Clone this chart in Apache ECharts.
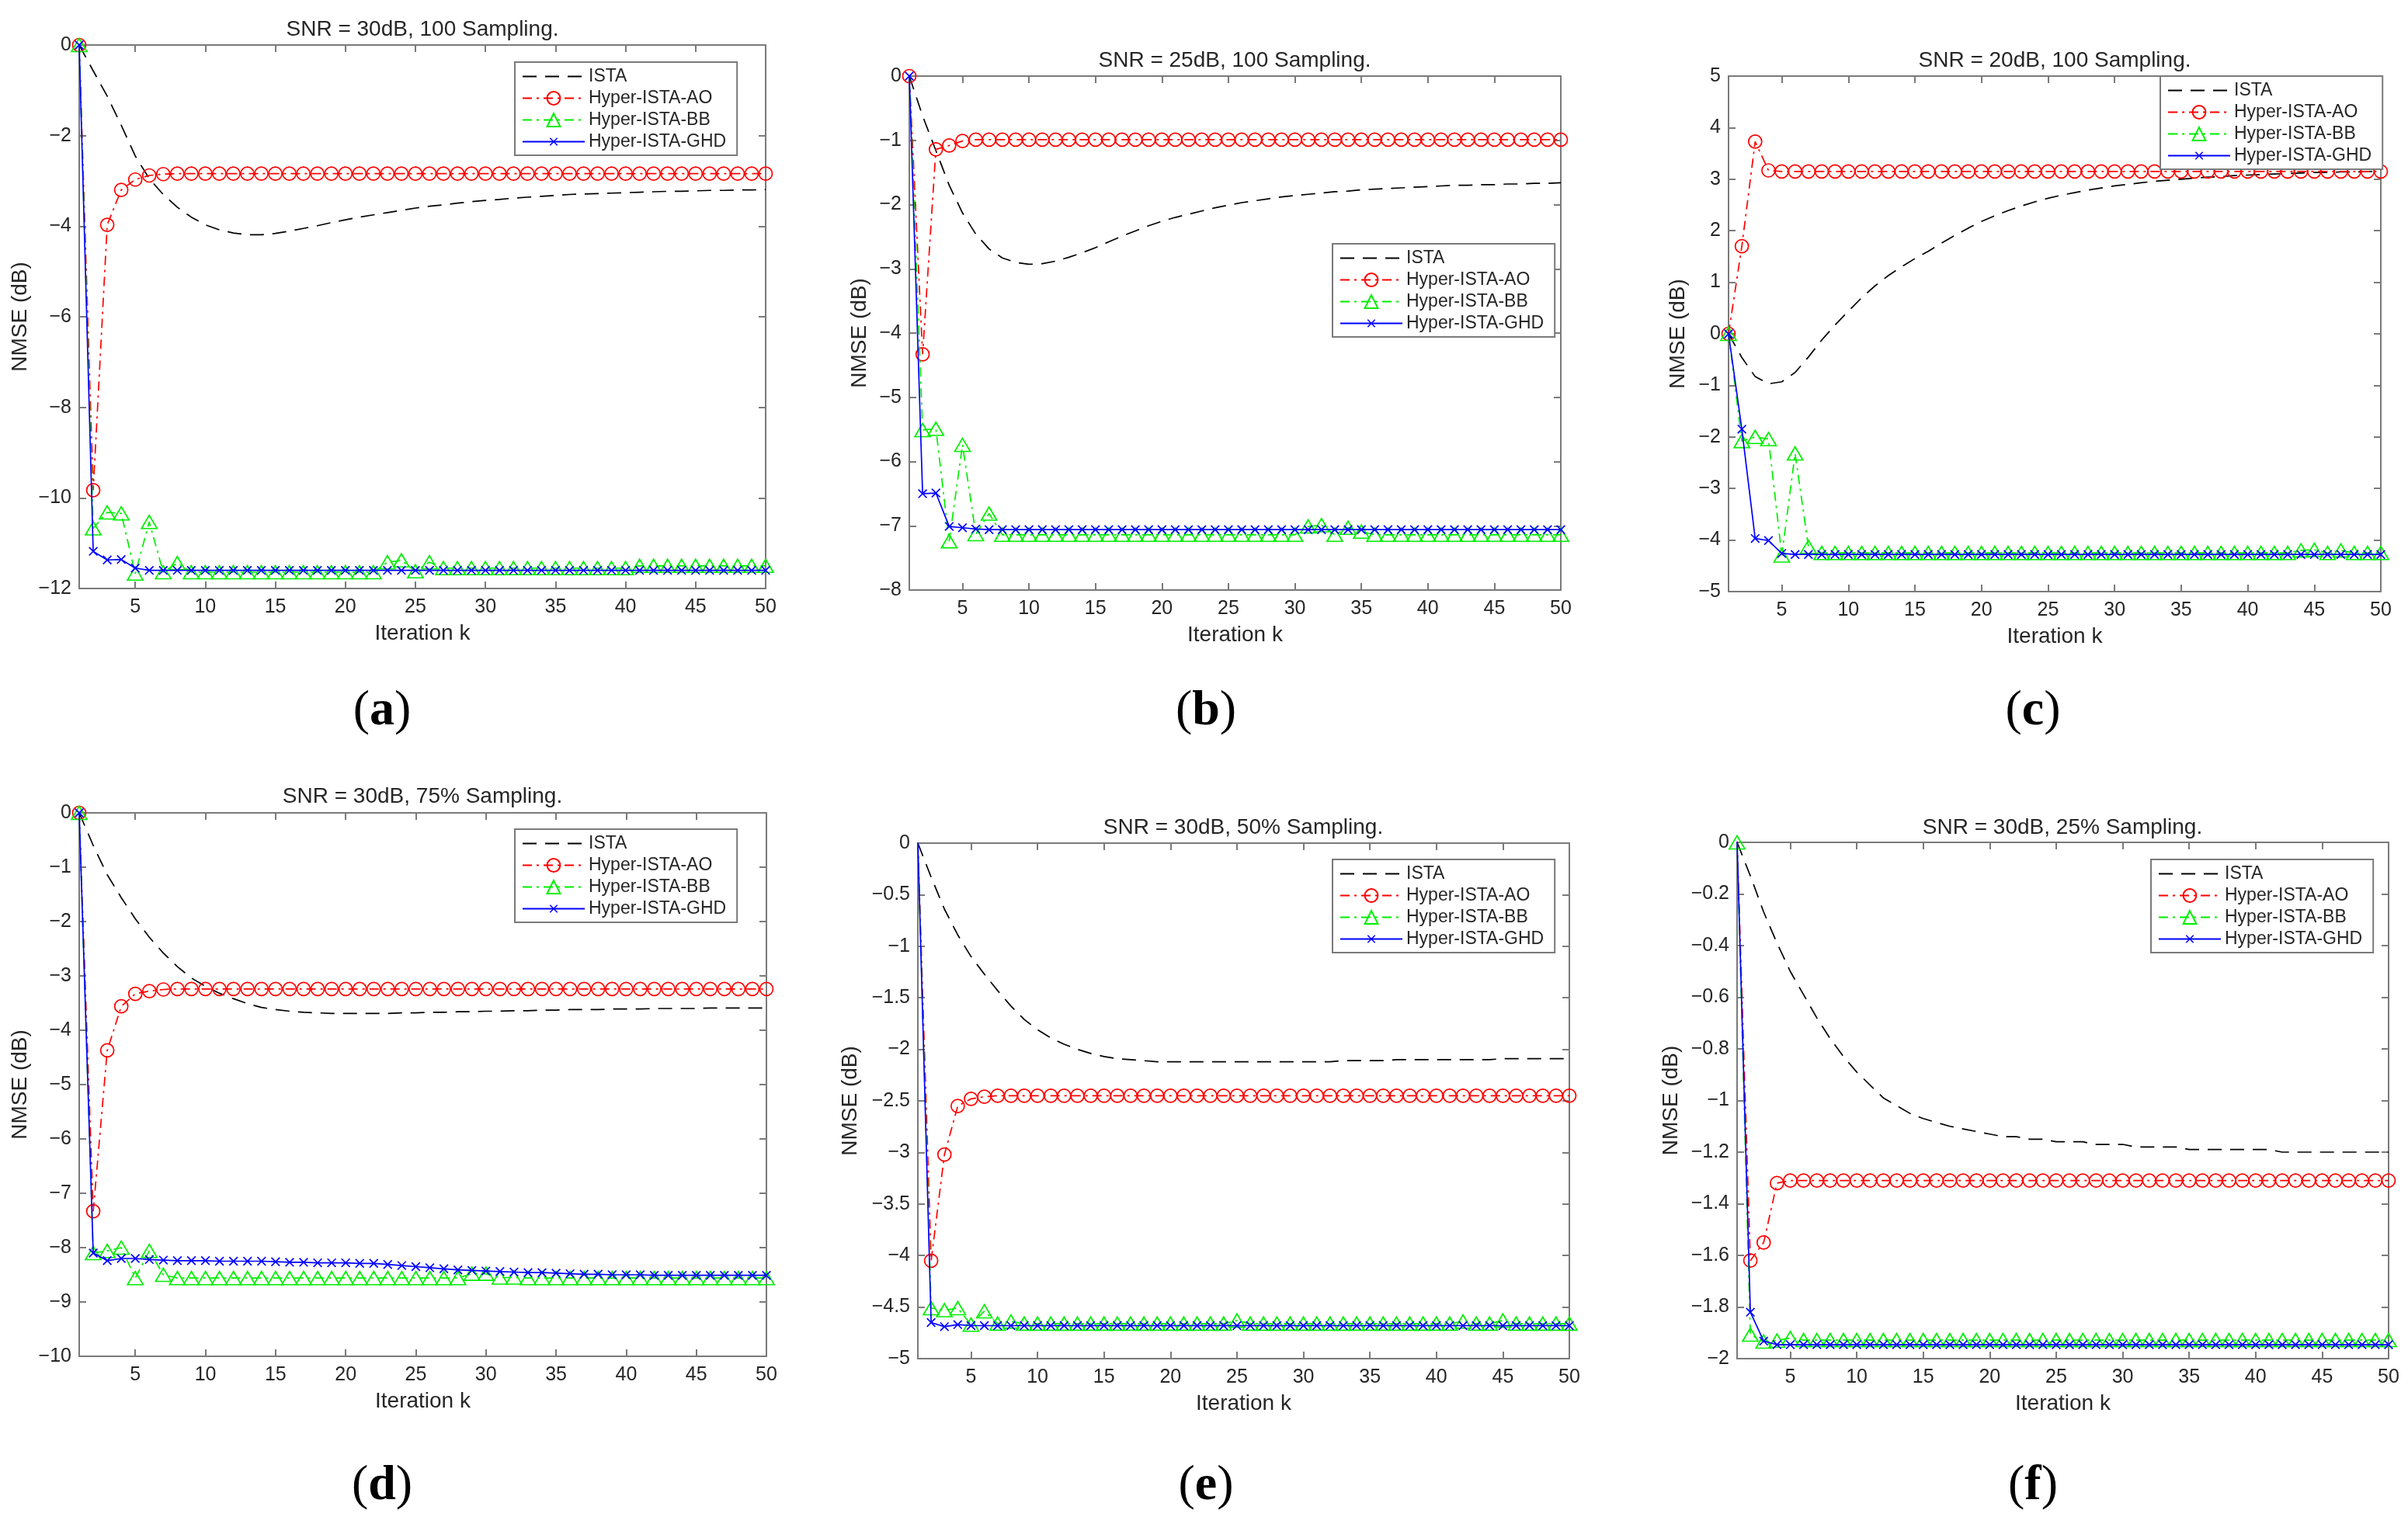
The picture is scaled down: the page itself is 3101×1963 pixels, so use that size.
<!DOCTYPE html>
<html>
<head>
<meta charset="utf-8">
<title>NMSE vs iteration</title>
<script src="https://cdn.jsdelivr.net/npm/echarts@6/dist/echarts.min.js"></script>
<style>
html, body { margin: 0; padding: 0; background: #fff; }
#main { width: 3101px; height: 1963px; }
</style>
</head>
<body>
<div id="main"></div>
<script>
// iteration index (x values) and the tick labels on x
var iters = [1, 2, 3, 4, 5, 6, 7, 8, 9, 10, 11, 12, 13, 14, 15, 16, 17, 18, 19, 20,
    21, 22, 23, 24, 25, 26, 27, 28, 29, 30, 31, 32, 33, 34, 35, 36, 37, 38, 39, 40,
    41, 42, 43, 44, 45, 46, 47, 48, 49, 50];
var xTicks = [5, 10, 15, 20, 25, 30, 35, 40, 45, 50];
var seriesNames = ['ISTA', 'Hyper-ISTA-AO', 'Hyper-ISTA-BB', 'Hyper-ISTA-GHD'];

// (a) SNR = 30dB, 100 Sampling
var istaA = [0, -0.57, -1.13, -1.77, -2.45, -2.95, -3.3, -3.58, -3.8, -3.97,
    -4.08, -4.15, -4.19, -4.19, -4.16, -4.11, -4.05, -3.99, -3.92, -3.86,
    -3.8, -3.75, -3.7, -3.65, -3.6, -3.56, -3.53, -3.49, -3.46, -3.43,
    -3.41, -3.38, -3.36, -3.34, -3.32, -3.3, -3.29, -3.28, -3.27, -3.26,
    -3.25, -3.24, -3.23, -3.23, -3.22, -3.21, -3.21, -3.2, -3.2, -3.19];
var aoA = [0, -9.83, -3.97, -3.2, -2.97, -2.88, -2.85, -2.84, -2.84, -2.84,
    -2.84, -2.84, -2.84, -2.84, -2.84, -2.84, -2.84, -2.84, -2.84, -2.84,
    -2.84, -2.84, -2.84, -2.84, -2.84, -2.84, -2.84, -2.84, -2.84, -2.84,
    -2.84, -2.84, -2.84, -2.84, -2.84, -2.84, -2.84, -2.84, -2.84, -2.84,
    -2.84, -2.84, -2.84, -2.84, -2.84, -2.84, -2.84, -2.84, -2.84, -2.84];
var bbA = [0, -10.67, -10.32, -10.34, -11.67, -10.53, -11.64, -11.44, -11.64, -11.64,
    -11.64, -11.64, -11.64, -11.64, -11.64, -11.64, -11.64, -11.64, -11.64, -11.64,
    -11.64, -11.64, -11.42, -11.38, -11.62, -11.42, -11.55, -11.55, -11.55, -11.55,
    -11.55, -11.55, -11.55, -11.55, -11.55, -11.55, -11.55, -11.55, -11.55, -11.55,
    -11.5, -11.5, -11.5, -11.5, -11.5, -11.5, -11.5, -11.5, -11.5, -11.5];
var ghdA = [0, -11.18, -11.37, -11.36, -11.55, -11.6, -11.6, -11.6, -11.6, -11.6,
    -11.6, -11.6, -11.6, -11.6, -11.6, -11.6, -11.6, -11.6, -11.6, -11.6,
    -11.6, -11.6, -11.6, -11.6, -11.6, -11.6, -11.6, -11.6, -11.6, -11.6,
    -11.6, -11.6, -11.6, -11.6, -11.6, -11.6, -11.6, -11.6, -11.6, -11.6,
    -11.6, -11.6, -11.6, -11.6, -11.6, -11.6, -11.6, -11.6, -11.6, -11.6];

// (b) SNR = 25dB, 100 Sampling
var istaB = [0, -0.62, -1.16, -1.7, -2.13, -2.46, -2.69, -2.83, -2.9, -2.93,
    -2.92, -2.88, -2.82, -2.75, -2.67, -2.58, -2.49, -2.41, -2.33, -2.26,
    -2.2, -2.15, -2.1, -2.05, -2.01, -1.97, -1.94, -1.91, -1.88, -1.86,
    -1.84, -1.82, -1.8, -1.79, -1.77, -1.76, -1.75, -1.74, -1.73, -1.72,
    -1.71, -1.7, -1.7, -1.69, -1.69, -1.68, -1.68, -1.67, -1.67, -1.66];
var aoB = [0, -4.33, -1.14, -1.08, -1.01, -0.99, -0.99, -0.99, -0.99, -0.99,
    -0.99, -0.99, -0.99, -0.99, -0.99, -0.99, -0.99, -0.99, -0.99, -0.99,
    -0.99, -0.99, -0.99, -0.99, -0.99, -0.99, -0.99, -0.99, -0.99, -0.99,
    -0.99, -0.99, -0.99, -0.99, -0.99, -0.99, -0.99, -0.99, -0.99, -0.99,
    -0.99, -0.99, -0.99, -0.99, -0.99, -0.99, -0.99, -0.99, -0.99, -0.99];
var bbB = [0.03, -5.51, -5.49, -7.24, -5.74, -7.13, -6.81, -7.14, -7.14, -7.14,
    -7.14, -7.14, -7.14, -7.14, -7.14, -7.14, -7.14, -7.14, -7.14, -7.14,
    -7.14, -7.14, -7.14, -7.14, -7.14, -7.14, -7.14, -7.14, -7.14, -7.14,
    -7.01, -6.99, -7.14, -7.03, -7.09, -7.14, -7.14, -7.14, -7.14, -7.14,
    -7.14, -7.14, -7.14, -7.14, -7.14, -7.14, -7.14, -7.14, -7.14, -7.14];
var ghdB = [0, -6.5, -6.49, -7.01, -7.03, -7.05, -7.06, -7.06, -7.06, -7.06,
    -7.06, -7.06, -7.06, -7.06, -7.06, -7.06, -7.06, -7.06, -7.06, -7.06,
    -7.06, -7.06, -7.06, -7.06, -7.06, -7.06, -7.06, -7.06, -7.06, -7.06,
    -7.06, -7.06, -7.06, -7.06, -7.06, -7.06, -7.06, -7.06, -7.06, -7.06,
    -7.06, -7.06, -7.06, -7.06, -7.06, -7.06, -7.06, -7.06, -7.06, -7.06];

// (c) SNR = 20dB, 100 Sampling
var istaC = [0, -0.46, -0.83, -0.97, -0.93, -0.75, -0.45, -0.12, 0.17, 0.44,
    0.7, 0.93, 1.13, 1.3, 1.46, 1.6, 1.76, 1.91, 2.05, 2.18,
    2.29, 2.39, 2.48, 2.56, 2.63, 2.69, 2.74, 2.79, 2.83, 2.87,
    2.9, 2.93, 2.96, 2.98, 3.0, 3.02, 3.04, 3.05, 3.07, 3.08,
    3.09, 3.1, 3.11, 3.12, 3.13, 3.13, 3.14, 3.14, 3.15, 3.15];
var aoC = [0, 1.7, 3.73, 3.17, 3.15, 3.15, 3.15, 3.15, 3.15, 3.15,
    3.15, 3.15, 3.15, 3.15, 3.15, 3.15, 3.15, 3.15, 3.15, 3.15,
    3.15, 3.15, 3.15, 3.15, 3.15, 3.15, 3.15, 3.15, 3.15, 3.15,
    3.15, 3.15, 3.15, 3.15, 3.15, 3.15, 3.15, 3.15, 3.15, 3.15,
    3.15, 3.15, 3.15, 3.15, 3.15, 3.15, 3.15, 3.15, 3.15, 3.15];
var bbC = [0, -2.08, -2.0, -2.04, -4.3, -2.32, -4.13, -4.25, -4.25, -4.25,
    -4.25, -4.25, -4.25, -4.25, -4.25, -4.25, -4.25, -4.25, -4.25, -4.25,
    -4.25, -4.25, -4.25, -4.25, -4.25, -4.25, -4.25, -4.25, -4.25, -4.25,
    -4.25, -4.25, -4.25, -4.25, -4.25, -4.25, -4.25, -4.25, -4.25, -4.25,
    -4.25, -4.25, -4.25, -4.2, -4.19, -4.25, -4.2, -4.25, -4.25, -4.25];
var ghdC = [0, -1.85, -3.97, -4.01, -4.26, -4.28, -4.28, -4.28, -4.28, -4.28,
    -4.28, -4.28, -4.28, -4.28, -4.28, -4.28, -4.28, -4.28, -4.28, -4.28,
    -4.28, -4.28, -4.28, -4.28, -4.28, -4.28, -4.28, -4.28, -4.28, -4.28,
    -4.28, -4.28, -4.28, -4.28, -4.28, -4.28, -4.28, -4.28, -4.28, -4.28,
    -4.28, -4.28, -4.28, -4.28, -4.28, -4.28, -4.28, -4.28, -4.28, -4.28];

// (d) SNR = 30dB, 75% Sampling
var istaD = [0, -0.6, -1.14, -1.56, -1.95, -2.29, -2.58, -2.83, -3.04, -3.19,
    -3.32, -3.42, -3.51, -3.58, -3.62, -3.65, -3.67, -3.68, -3.69, -3.69,
    -3.69, -3.69, -3.69, -3.68, -3.68, -3.67, -3.67, -3.66, -3.66, -3.65,
    -3.65, -3.64, -3.64, -3.63, -3.63, -3.62, -3.62, -3.62, -3.61, -3.61,
    -3.61, -3.6, -3.6, -3.6, -3.6, -3.59, -3.59, -3.59, -3.59, -3.59];
var aoD = [0, -7.33, -4.37, -3.56, -3.33, -3.28, -3.25, -3.24, -3.24, -3.24,
    -3.24, -3.24, -3.24, -3.24, -3.24, -3.24, -3.24, -3.24, -3.24, -3.24,
    -3.24, -3.24, -3.24, -3.24, -3.24, -3.24, -3.24, -3.24, -3.24, -3.24,
    -3.24, -3.24, -3.24, -3.24, -3.24, -3.24, -3.24, -3.24, -3.24, -3.24,
    -3.24, -3.24, -3.24, -3.24, -3.24, -3.24, -3.24, -3.24, -3.24, -3.24];
var bbD = [0, -8.1, -8.06, -8.0, -8.56, -8.06, -8.5, -8.56, -8.56, -8.56,
    -8.56, -8.56, -8.56, -8.56, -8.56, -8.56, -8.56, -8.56, -8.56, -8.56,
    -8.56, -8.56, -8.56, -8.56, -8.56, -8.56, -8.56, -8.56, -8.48, -8.48,
    -8.55, -8.55, -8.56, -8.56, -8.56, -8.56, -8.56, -8.56, -8.56, -8.56,
    -8.56, -8.56, -8.56, -8.56, -8.56, -8.56, -8.56, -8.56, -8.56, -8.56];
var ghdD = [0, -8.1, -8.24, -8.2, -8.2, -8.22, -8.23, -8.24, -8.24, -8.24,
    -8.25, -8.25, -8.25, -8.25, -8.26, -8.27, -8.27, -8.28, -8.28, -8.28,
    -8.29, -8.29, -8.31, -8.33, -8.35, -8.37, -8.39, -8.41, -8.42, -8.43,
    -8.44, -8.45, -8.46, -8.46, -8.47, -8.48, -8.49, -8.49, -8.5, -8.5,
    -8.5, -8.51, -8.51, -8.51, -8.51, -8.51, -8.51, -8.51, -8.51, -8.51];

// (e) SNR = 30dB, 50% Sampling
var istaE = [0, -0.33, -0.64, -0.89, -1.1, -1.27, -1.43, -1.58, -1.71, -1.81,
    -1.89, -1.95, -2.0, -2.04, -2.07, -2.09, -2.1, -2.11, -2.12, -2.12,
    -2.12, -2.12, -2.12, -2.12, -2.12, -2.12, -2.12, -2.12, -2.12, -2.12,
    -2.12, -2.12, -2.11, -2.11, -2.11, -2.11, -2.1, -2.1, -2.1, -2.1,
    -2.1, -2.1, -2.1, -2.1, -2.09, -2.09, -2.09, -2.09, -2.09, -2.09];
var aoE = [0.01, -4.05, -3.02, -2.55, -2.48, -2.46, -2.45, -2.45, -2.45, -2.45,
    -2.45, -2.45, -2.45, -2.45, -2.45, -2.45, -2.45, -2.45, -2.45, -2.45,
    -2.45, -2.45, -2.45, -2.45, -2.45, -2.45, -2.45, -2.45, -2.45, -2.45,
    -2.45, -2.45, -2.45, -2.45, -2.45, -2.45, -2.45, -2.45, -2.45, -2.45,
    -2.45, -2.45, -2.45, -2.45, -2.45, -2.45, -2.45, -2.45, -2.45, -2.45];
var bbE = [0.01, -4.51, -4.53, -4.51, -4.67, -4.54, -4.66, -4.64, -4.66, -4.66,
    -4.66, -4.66, -4.66, -4.66, -4.66, -4.66, -4.66, -4.66, -4.66, -4.66,
    -4.66, -4.66, -4.66, -4.66, -4.63, -4.66, -4.66, -4.66, -4.66, -4.66,
    -4.66, -4.66, -4.66, -4.66, -4.66, -4.66, -4.66, -4.66, -4.66, -4.66,
    -4.66, -4.64, -4.66, -4.66, -4.63, -4.66, -4.66, -4.66, -4.66, -4.66];
var ghdE = [0.01, -4.65, -4.69, -4.67, -4.68, -4.68, -4.68, -4.68, -4.68, -4.68,
    -4.68, -4.68, -4.68, -4.68, -4.68, -4.68, -4.68, -4.68, -4.68, -4.68,
    -4.68, -4.68, -4.68, -4.68, -4.68, -4.68, -4.68, -4.68, -4.68, -4.68,
    -4.68, -4.68, -4.68, -4.68, -4.68, -4.68, -4.68, -4.68, -4.68, -4.68,
    -4.68, -4.68, -4.68, -4.68, -4.68, -4.68, -4.68, -4.68, -4.68, -4.68];

// (f) SNR = 30dB, 25% Sampling
var istaF = [0, -0.13, -0.27, -0.39, -0.5, -0.59, -0.68, -0.76, -0.83, -0.89,
    -0.94, -0.99, -1.02, -1.05, -1.07, -1.085, -1.1, -1.11, -1.12, -1.13,
    -1.14, -1.14, -1.15, -1.15, -1.16, -1.16, -1.16, -1.17, -1.17, -1.17,
    -1.18, -1.18, -1.18, -1.18, -1.19, -1.19, -1.19, -1.19, -1.19, -1.19,
    -1.19, -1.2, -1.2, -1.2, -1.2, -1.2, -1.2, -1.2, -1.2, -1.2];
var aoF = [0.005, -1.62, -1.55, -1.32, -1.31, -1.31, -1.31, -1.31, -1.31, -1.31,
    -1.31, -1.31, -1.31, -1.31, -1.31, -1.31, -1.31, -1.31, -1.31, -1.31,
    -1.31, -1.31, -1.31, -1.31, -1.31, -1.31, -1.31, -1.31, -1.31, -1.31,
    -1.31, -1.31, -1.31, -1.31, -1.31, -1.31, -1.31, -1.31, -1.31, -1.31,
    -1.31, -1.31, -1.31, -1.31, -1.31, -1.31, -1.31, -1.31, -1.31, -1.31];
var bbF = [0, -1.907, -1.934, -1.93, -1.92, -1.928, -1.928, -1.928, -1.928, -1.928,
    -1.928, -1.928, -1.928, -1.928, -1.928, -1.928, -1.928, -1.928, -1.928, -1.928,
    -1.928, -1.928, -1.928, -1.928, -1.928, -1.928, -1.928, -1.928, -1.928, -1.928,
    -1.928, -1.928, -1.928, -1.928, -1.928, -1.928, -1.928, -1.928, -1.928, -1.928,
    -1.928, -1.928, -1.928, -1.928, -1.928, -1.928, -1.928, -1.928, -1.928, -1.928];
var ghdF = [0.005, -1.82, -1.932, -1.946, -1.946, -1.946, -1.946, -1.946, -1.946, -1.946,
    -1.946, -1.946, -1.946, -1.946, -1.946, -1.946, -1.946, -1.946, -1.946, -1.946,
    -1.946, -1.946, -1.946, -1.946, -1.946, -1.946, -1.946, -1.946, -1.946, -1.946,
    -1.946, -1.946, -1.946, -1.946, -1.946, -1.946, -1.946, -1.946, -1.946, -1.946,
    -1.946, -1.946, -1.946, -1.946, -1.946, -1.946, -1.946, -1.946, -1.946, -1.946];

var panelTitles = ['SNR = 30dB, 100 Sampling.', 'SNR = 25dB, 100 Sampling.', 'SNR = 20dB, 100 Sampling.',
    'SNR = 30dB, 75% Sampling.', 'SNR = 30dB, 50% Sampling.', 'SNR = 30dB, 25% Sampling.'];
var panelTags = ['a', 'b', 'c', 'd', 'e', 'f'];
var yMin = [-12, -8, -5, -10, -5, -2];
var yMax = [0, 0, 5, 0, 0, 0];
var yStep = [2, 1, 1, 1, 0.5, 0.2];
var panelData = [
    [istaA, aoA, bbA, ghdA],
    [istaB, aoB, bbB, ghdB],
    [istaC, aoC, bbC, ghdC],
    [istaD, aoD, bbD, ghdD],
    [istaE, aoE, bbE, ghdE],
    [istaF, aoF, bbF, ghdF]
];
// series that start just above the top limit, so the first marker is clipped
var clipped = [[], [2], [], [], [1, 2, 3], [1, 3]];

// layout in page pixels
var boxes = [
    {l: 102, t: 58, w: 884, h: 700, tx: 544, ty: 38, lx: 663, ly: 80, gap: 62, gx: 492, gy: 916},
    {l: 1171, t: 98, w: 839, h: 662, tx: 1590, ty: 78, lx: 1716, ly: 314, gap: 50, gx: 1553, gy: 916},
    {l: 2226, t: 98, w: 840, h: 664, tx: 2646, ty: 78, lx: 2782, ly: 98, gap: 51, gx: 2618, gy: 916},
    {l: 102, t: 1047, w: 885, h: 700, tx: 544, ty: 1026, lx: 663, ly: 1068, gap: 62, gx: 492, gy: 1914},
    {l: 1182, t: 1086, w: 839, h: 664, tx: 1601, ty: 1066, lx: 1716, ly: 1107, gap: 73, gx: 1553, gy: 1914},
    {l: 2237, t: 1085, w: 839, h: 665, tx: 2656, ty: 1066, lx: 2770, ly: 1107, gap: 71, gx: 2618, gy: 1914}
];

var FONT = '"Liberation Sans", Arial, Helvetica, sans-serif';
var TEXT = '#262626';
var AXIS = '#7a7a7a';
var XMARK = 'path://M-3,-3M13,13M0,1L1,0L5,4L9,0L10,1L6,5L10,9L9,10L5,6L1,10L0,9L4,5Z';
var looks = [
    {color: '#000000', symbol: 'none', size: 0, dash: [18, 11], hollow: false},
    {color: '#ff0000', symbol: 'circle', size: 17, dash: [12, 6, 3, 6], hollow: true},
    {color: '#00ee00', symbol: 'triangle', size: [20, 17], dash: [12, 6, 3, 6], hollow: true},
    {color: '#0000ff', symbol: XMARK, size: 19, dash: 'solid', hollow: false}
];

function minusFmt(v) {
    return String(v).replace('-', '\u2212');
}

var chart = echarts.init(document.getElementById('main'), null, {renderer: 'canvas'});
var grids = [], xAxes = [], yAxes = [], series = [], legends = [], graphics = [];

boxes.forEach(function (b, i) {
    grids.push({left: b.l, top: b.t, width: b.w, height: b.h, containLabel: false, outerBoundsMode: 'none'});

    var lineSt = {color: AXIS, width: 2};
    var tickSt = {show: true, inside: true, length: 9, lineStyle: lineSt};
    xAxes.push({
        gridIndex: i, type: 'value', min: 1, max: 50, position: 'bottom',
        axisLine: {show: true, onZero: false, lineStyle: lineSt},
        axisTick: Object.assign({customValues: xTicks}, tickSt),
        axisLabel: {show: true, customValues: xTicks, fontSize: 25, color: TEXT, fontFamily: FONT, margin: 12},
        splitLine: {show: false},
        name: 'Iteration k', nameLocation: 'middle', nameGap: 44, nameMoveOverlap: false,
        nameTextStyle: {fontSize: 28, color: TEXT, fontFamily: FONT}
    });
    xAxes.push({
        gridIndex: i, type: 'value', min: 1, max: 50, position: 'top',
        axisLine: {show: true, onZero: false, lineStyle: lineSt},
        axisTick: Object.assign({customValues: xTicks}, tickSt),
        axisLabel: {show: false},
        splitLine: {show: false}
    });
    yAxes.push({
        gridIndex: i, type: 'value', min: yMin[i], max: yMax[i], interval: yStep[i], position: 'left',
        axisLine: {show: true, onZero: false, lineStyle: lineSt},
        axisTick: tickSt,
        axisLabel: {show: true, fontSize: 25, color: TEXT, fontFamily: FONT, margin: 10, formatter: minusFmt},
        splitLine: {show: false},
        name: 'NMSE (dB)', nameLocation: 'middle', nameGap: b.gap, nameMoveOverlap: false,
        nameTextStyle: {fontSize: 28, color: TEXT, fontFamily: FONT}
    });
    yAxes.push({
        gridIndex: i, type: 'value', min: yMin[i], max: yMax[i], interval: yStep[i], position: 'right',
        axisLine: {show: true, onZero: false, lineStyle: lineSt},
        axisTick: tickSt,
        axisLabel: {show: false},
        splitLine: {show: false}
    });

    panelData[i].forEach(function (vals, s) {
        var lk = looks[s];
        var isClipped = clipped[i].indexOf(s) >= 0;
        series.push({
            type: 'line', name: seriesNames[s],
            xAxisIndex: 2 * i, yAxisIndex: 2 * i,
            data: vals.map(function (v, j) { return [iters[j], v]; }),
            symbol: lk.symbol, symbolSize: lk.size,
            showSymbol: lk.symbol !== 'none', showAllSymbol: true,
            clip: isClipped,
            lineStyle: {color: lk.color, width: 1.7, type: lk.dash},
            itemStyle: lk.hollow
                ? {color: 'transparent', borderColor: lk.color, borderWidth: 1.7}
                : {color: lk.symbol === 'none' ? 'transparent' : lk.color},
            emphasis: {disabled: true},
            silent: true,
            animation: false,
            z: 2 + s
        });
    });

    legends.push({
        orient: 'vertical', align: 'left', left: b.lx, top: b.ly,
        data: seriesNames,
        itemWidth: 80, itemHeight: 21, itemGap: 5,
        padding: [7, 14, 6, 9],
        borderColor: AXIS, borderWidth: 2, backgroundColor: '#ffffff',
        selectedMode: false,
        textStyle: {fontSize: 23, color: TEXT, fontFamily: FONT},
        z: 10
    });

    graphics.push({
        type: 'text', x: b.tx, y: b.ty, silent: true,
        style: {text: panelTitles[i], fontSize: 28, fontFamily: FONT, fill: TEXT, align: 'center', verticalAlign: 'middle'}
    });
    graphics.push({
        type: 'text', x: b.gx, y: b.gy, silent: true,
        style: {
            text: '{p|(}{b|' + panelTags[i] + '}{p|)}', align: 'center', verticalAlign: 'middle',
            rich: {
                p: {fontSize: 64, fontFamily: '"Liberation Serif", "Times New Roman", serif', fill: '#000'},
                b: {fontSize: 64, fontFamily: '"Liberation Serif", "Times New Roman", serif', fontWeight: 'bold', fill: '#000'}
            }
        }
    });
});

chart.setOption({
    animation: false,
    backgroundColor: '#ffffff',
    grid: grids,
    xAxis: xAxes,
    yAxis: yAxes,
    legend: legends,
    series: series,
    graphic: graphics
});
</script>
</body>
</html>
